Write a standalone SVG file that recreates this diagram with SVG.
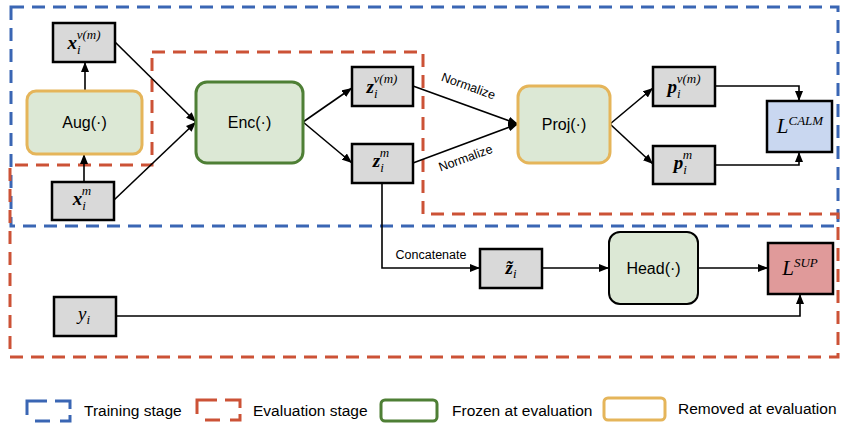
<svg xmlns="http://www.w3.org/2000/svg" width="841" height="423" viewBox="0 0 841 423">
<defs>
<marker id="ah" markerWidth="10" markerHeight="8" refX="10" refY="4" orient="auto" markerUnits="userSpaceOnUse">
<path d="M0,0 L10,4 L0,8 Z" fill="#000"/>
</marker>
<style>
.reg{fill:none;stroke-width:3;stroke-dasharray:13 8}
.blue{stroke:#3A66B4}
.red{stroke:#CC5236}
.var{fill:#D9D9D9;stroke:#000;stroke-width:2.5}
.fn{fill:#DCE8D5;stroke-width:3}
.frz{stroke:#4E7F35}
.rem{stroke:#E5B55A}
.lbl{font-family:"Liberation Sans",Arial,sans-serif;font-size:16px;fill:#000;text-anchor:middle}
.m{font-family:"Liberation Serif","DejaVu Serif",serif;font-style:italic;font-size:19px;fill:#000;text-anchor:middle}
.b{font-weight:bold}
.sup{font-size:13px;font-weight:normal}
.small{font-family:"Liberation Sans",Arial,sans-serif;font-size:12.5px;fill:#000;text-anchor:middle}
.leg{font-family:"Liberation Sans",Arial,sans-serif;font-size:15.5px;fill:#000}
.c{fill:none;stroke:#000;stroke-width:1.6}
</style>
</defs>
<rect width="841" height="423" fill="#fff"/>

<g id="regions">
<rect class="reg blue" x="11" y="7" width="827" height="219"/>
<path class="reg red" d="M152,52 H423 V214 H838 V357 H10 V165 H152 Z"/>
</g>

<g id="connectors">
<line class="c" x1="85" y1="91" x2="85" y2="62" marker-end="url(#ah)"/>
<line class="c" x1="84" y1="182" x2="84" y2="154" marker-end="url(#ah)"/>
<line class="c" x1="115" y1="42" x2="196" y2="122" marker-end="url(#ah)"/>
<line class="c" x1="114" y1="200" x2="196" y2="122" marker-end="url(#ah)"/>
<line class="c" x1="303" y1="122" x2="352" y2="88" marker-end="url(#ah)"/>
<line class="c" x1="303" y1="122" x2="352" y2="163" marker-end="url(#ah)"/>
<line class="c" x1="413" y1="86" x2="518" y2="124" marker-end="url(#ah)"/>
<line class="c" x1="413" y1="163" x2="518" y2="124" marker-end="url(#ah)"/>
<line class="c" x1="610" y1="124" x2="653" y2="88" marker-end="url(#ah)"/>
<line class="c" x1="610" y1="124" x2="653" y2="164" marker-end="url(#ah)"/>
<polyline class="c" points="715,86 799,86 799,101" marker-end="url(#ah)"/>
<polyline class="c" points="715,165 799,165 799,152" marker-end="url(#ah)"/>
<polyline class="c" points="382,183 382,268 480,268" marker-end="url(#ah)"/>
<line class="c" x1="542" y1="268" x2="609" y2="268" marker-end="url(#ah)"/>
<line class="c" x1="698" y1="268" x2="768" y2="268" marker-end="url(#ah)"/>
<polyline class="c" points="116,316 800,316 800,294" marker-end="url(#ah)"/>
<text class="small" transform="translate(467,90) rotate(20)">Normalize</text>
<text class="small" transform="translate(467,162) rotate(-20)">Normalize</text>
<text class="small" x="431" y="259">Concatenate</text>
</g>

<g id="x_vm">
<rect class="var" x="53" y="23" width="62" height="39"/>
<text class="m" x="84" y="49"><tspan class="b">x</tspan><tspan class="sup" dy="5">i</tspan><tspan class="sup" dx="-4" dy="-15">v(m)</tspan></text>
</g>
<g id="aug">
<rect class="fn rem" x="27" y="91" width="115" height="63" rx="9"/>
<text class="lbl" x="84.5" y="128">Aug(·)</text>
</g>
<g id="x_m">
<rect class="var" x="52" y="182" width="62" height="38"/>
<text class="m" x="82" y="205"><tspan class="b">x</tspan><tspan class="sup" dy="5">i</tspan><tspan class="sup" dx="-4" dy="-15">m</tspan></text>
</g>
<g id="enc">
<rect class="fn frz" x="196" y="82" width="107" height="81" rx="11"/>
<text class="lbl" x="249.5" y="128">Enc(·)</text>
</g>
<g id="z_vm">
<rect class="var" x="352" y="67" width="61" height="39"/>
<text class="m" x="382" y="93"><tspan class="b">z</tspan><tspan class="sup" dy="5">i</tspan><tspan class="sup" dx="-4" dy="-15">v(m)</tspan></text>
</g>
<g id="z_m">
<rect class="var" x="352" y="144" width="61" height="39"/>
<text class="m" x="381" y="167"><tspan class="b">z</tspan><tspan class="sup" dy="5">i</tspan><tspan class="sup" dx="-4" dy="-15">m</tspan></text>
</g>
<g id="proj">
<rect class="fn rem" x="518" y="86" width="92" height="77" rx="11"/>
<text class="lbl" x="564" y="130">Proj(·)</text>
</g>
<g id="p_vm">
<rect class="var" x="653" y="67" width="62" height="39"/>
<text class="m" x="684" y="93"><tspan class="b">p</tspan><tspan class="sup" dy="5">i</tspan><tspan class="sup" dx="-4" dy="-15">v(m)</tspan></text>
</g>
<g id="p_m">
<rect class="var" x="653" y="146" width="62" height="38"/>
<text class="m" x="683" y="169"><tspan class="b">p</tspan><tspan class="sup" dy="5">i</tspan><tspan class="sup" dx="-4" dy="-15">m</tspan></text>
</g>
<g id="l_calm">
<rect class="var" x="767" y="101" width="65" height="51" style="fill:#C9D7F0"/>
<text class="m" x="800" y="133" style="font-size:21px"><tspan>L</tspan><tspan class="sup" dy="-8">CALM</tspan></text>
</g>
<g id="z_tilde">
<rect class="var" x="480" y="249" width="62" height="39"/>
<text class="m" x="511" y="274"><tspan class="b">z̃</tspan><tspan class="sup" dy="4">i</tspan></text>
</g>
<g id="head">
<rect class="fn" x="609" y="232" width="89" height="72" rx="11" style="stroke:#000;stroke-width:2"/>
<text class="lbl" x="653.5" y="274">Head(·)</text>
</g>
<g id="l_sup">
<rect class="var" x="768" y="243" width="65" height="51" style="fill:#E09A9A"/>
<text class="m" x="800" y="275" style="font-size:21px"><tspan>L</tspan><tspan class="sup" dy="-8">SUP</tspan></text>
</g>
<g id="y_i">
<rect class="var" x="54" y="297" width="62" height="39"/>
<text class="m" x="84" y="320"><tspan>y</tspan><tspan class="sup" dy="4">i</tspan></text>
</g>

<g id="legend">
<g fill="none" stroke="#3A66B4" stroke-width="3">
<path d="M27,415 V401 H47 M55,401 H70 V409 M70,415 V421 H60 M50,421 H35"/>
</g>
<text class="leg" x="84" y="416">Training stage</text>
<g fill="none" stroke="#CC5236" stroke-width="3">
<path d="M197,414 V400 H217 M225,400 H240 V408 M240,414 V420 H230 M220,420 H205"/>
</g>
<text class="leg" x="253" y="416">Evaluation stage</text>
<rect x="381" y="400" width="56" height="21" rx="4" fill="none" stroke="#4E7F35" stroke-width="3"/>
<text class="leg" x="452" y="416">Frozen at evaluation</text>
<rect x="604" y="398" width="61" height="22" rx="4" fill="none" stroke="#E5B55A" stroke-width="3"/>
<text class="leg" x="678" y="414">Removed at evaluation</text>
</g>
</svg>
